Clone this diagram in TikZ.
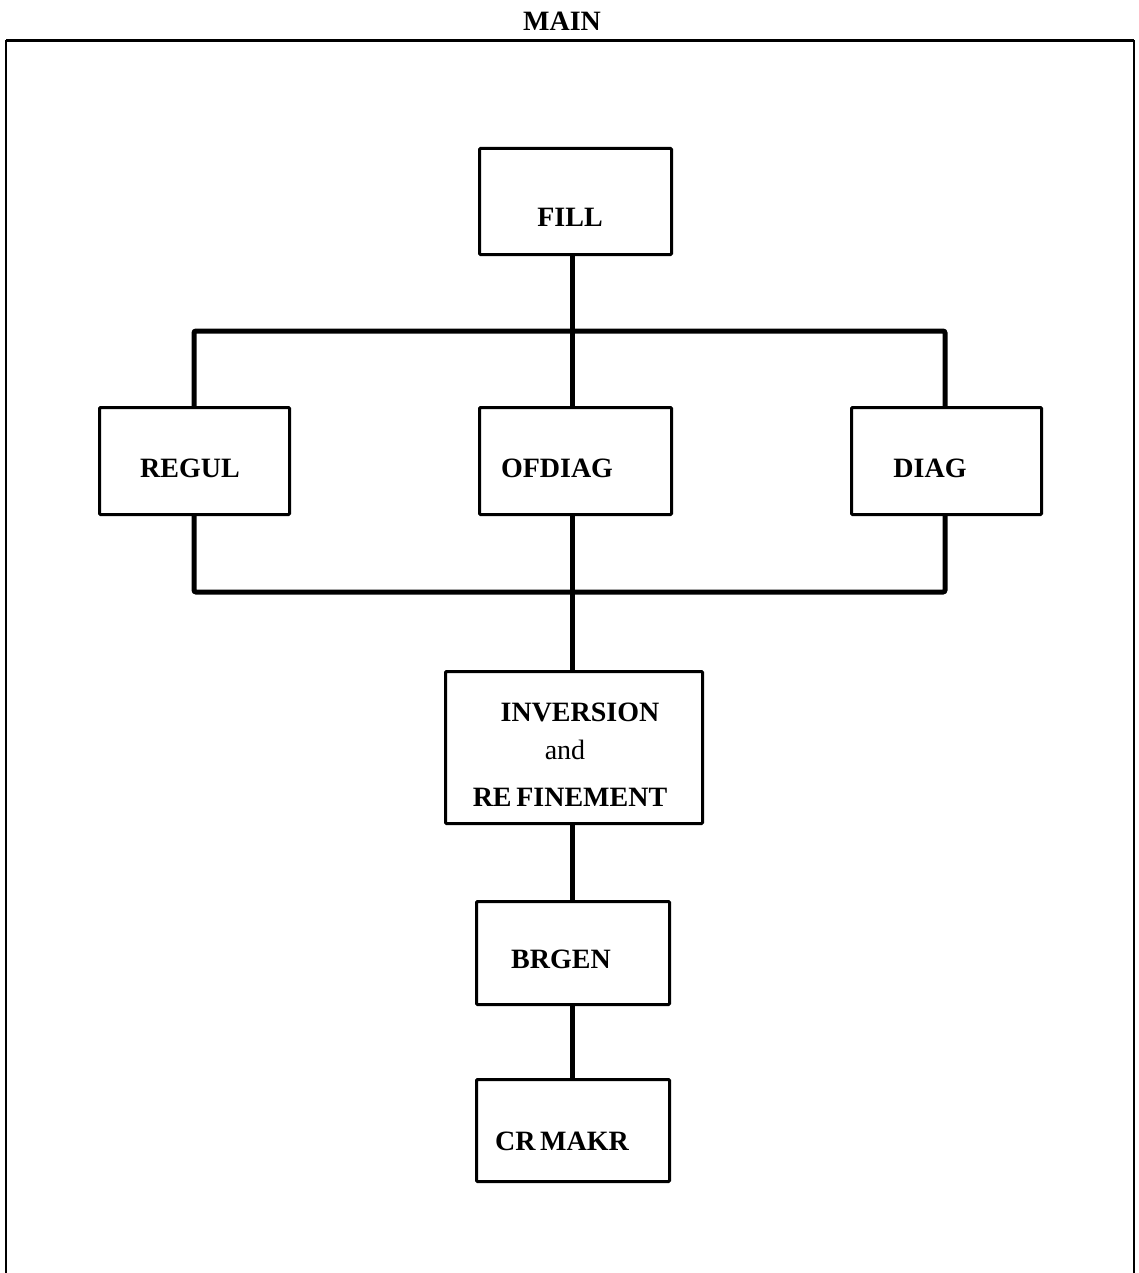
\documentclass[tikz,border=0pt]{standalone}
\usepackage{fontspec}
\setmainfont{Liberation Serif}
\begin{document}
\begin{tikzpicture}[x=1pt,y=-1pt,
  box/.style={draw,line width=3pt,rounded corners=1pt,inner sep=0pt,anchor=north west},
  lbl/.style={font=\fontsize{28}{31}\selectfont\bfseries,inner sep=0pt,anchor=base},
  wire/.style={line width=5pt,rounded corners=2pt,line cap=butt}]
\useasboundingbox (0,0) rectangle (1138,1273);

% title and open-bottomed frame
\node[lbl] (title) at (562,31) {MAIN};
\draw[line width=2pt] (6,1273) -- (6,41) -- (1134,41) -- (1134,1273);
\draw[line width=3pt] (6,41) -- (1134,41);

% boxes
\node[box,minimum width=192pt,minimum height=106pt] (fill) at (478,147) {};
\node[box,minimum width=190pt,minimum height=107pt] (regul) at (98,406) {};
\node[box,minimum width=192pt,minimum height=107pt] (ofdiag) at (478,406) {};
\node[box,minimum width=190pt,minimum height=107pt] (diag) at (850,406) {};
\node[box,minimum width=257pt,minimum height=152pt] (inv) at (444,670) {};
\node[box,minimum width=193pt,minimum height=103pt] (brgen) at (475,900) {};
\node[box,minimum width=193pt,minimum height=102pt] (crmakr) at (475,1078) {};

% labels
\node[lbl] at (570,226) {FILL};
\node[lbl] at (190,477) {REGUL};
\node[lbl] at (557,477) {OFDIAG};
\node[lbl] at (930,477) {DIAG};
\node[lbl] at (580,721) {INVERSION};
\node[lbl,font=\fontsize{28}{31}\selectfont] at (565,759) {and};
\node[lbl] at (570,806) {RE\,FINEMENT};
\node[lbl] at (561,968) {BRGEN};
\node[lbl] at (562,1150) {CR\,MAKR};

% buses
\coordinate (tbus) at (572,331);
\coordinate (bbus) at (572,592);
\draw[wire] (fill.south -| tbus) -- (ofdiag.north -| tbus);
\draw[wire] (regul.north -| 194,0) -- (194,331) -- (945,331) -- (diag.north -| 945,0);
\draw[wire] (regul.south -| 194,0) -- (194,592) -- (945,592) -- (diag.south -| 945,0);
\draw[wire] (ofdiag.south -| bbus) -- (inv.north -| bbus);
\draw[wire] (inv.south -| bbus) -- (brgen.north -| bbus);
\draw[wire] (brgen.south -| bbus) -- (crmakr.north -| bbus);
\end{tikzpicture}
\end{document}
